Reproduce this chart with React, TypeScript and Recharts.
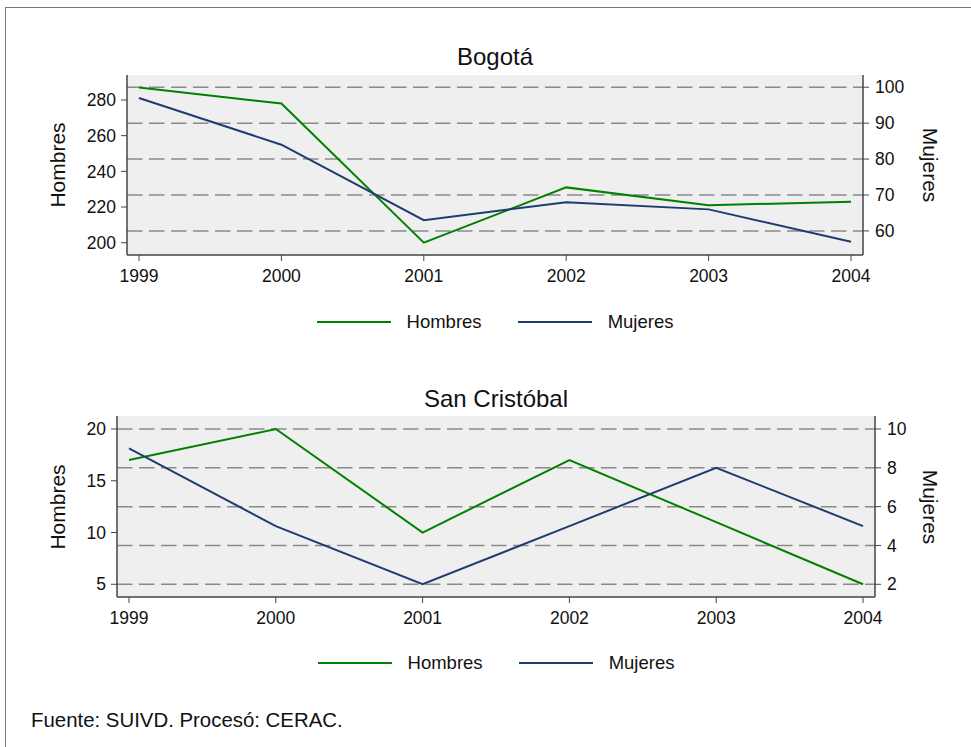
import React from 'react';
import { LineChart, Line, XAxis, YAxis, CartesianGrid, Legend } from 'recharts';

const years = ['1999', '2000', '2001', '2002', '2003', '2004'];
const bogotaHombres = [287, 278, 200, 231, 221, 223];
const bogotaMujeres = [97, 84, 63, 68, 66, 57];
const sanCristobalHombres = [17, 20, 10, 17, 11, 5];
const sanCristobalMujeres = [9, 5, 2, 5, 8, 5];

const bogotaLeftTicks = [200, 220, 240, 260, 280];
const bogotaRightTicks = [60, 70, 80, 90, 100];
const scLeftTicks = [5, 10, 15, 20];
const scRightTicks = [2, 4, 6, 8, 10];

const GREEN = '#008000';
const NAVY = '#1f3c6e';
const FONT = '"Liberation Sans", Arial, Helvetica, sans-serif';
const TEXT = '#111';

function LegendContent() {
  const item = (color: string, label: string, gap: number) => (
    <div style={{ display: 'flex', alignItems: 'center', marginRight: gap }}>
      <svg width={74} height={4} style={{ marginRight: 16 }}>
        <line x1={0} y1={2} x2={74} y2={2} stroke={color} strokeWidth={2} />
      </svg>
      <span style={{ fontSize: 18.5, color: TEXT, fontFamily: FONT }}>{label}</span>
    </div>
  );
  return (
    <div style={{ display: 'flex', justifyContent: 'center', alignItems: 'center', height: '100%' }}>
      {item(GREEN, 'Hombres', 36)}
      {item(NAVY, 'Mujeres', 0)}
    </div>
  );
}

type PanelProps = {
  title: string;
  hombres: number[];
  mujeres: number[];
  top: number;
  height: number;
  marginTop: number;
  marginLeft: number;
  marginRight: number;
  legendHeight: number;
  leftDomain: [number, number];
  rightDomain: [number, number];
  leftTicks: number[];
  rightTicks: number[];
  titleY: number;
  leftAxisX: number;
  rightAxisX: number;
};

function Panel(p: PanelProps) {
  const data = years.map((y, i) => ({ year: y, Hombres: p.hombres[i], Mujeres: p.mujeres[i] }));
  const plotTop = p.top + p.marginTop;
  const plotBottom = p.top + p.height - p.legendHeight - 35;
  const midY = (plotTop + plotBottom) / 2;
  const midX = (p.leftAxisX + p.rightAxisX) / 2;
  const tickStyle = { fontSize: 17.5, fill: TEXT, fontFamily: FONT };
  const axisLine = { stroke: '#444', strokeWidth: 1.5 };
  const gridGen = (props: any) => {
    const sc = props?.yAxis?.scale;
    const off = props?.offset;
    return p.rightTicks.map((t) => {
      if (typeof sc === 'function') return sc(t);
      if (sc && typeof sc.map === 'function') return sc.map(t);
      const [lo, hi] = p.rightDomain;
      return off.top + ((hi - t) / (hi - lo)) * off.height;
    });
  };
  return (
    <>
      <div style={{ position: 'absolute', left: midX, top: p.titleY, transform: 'translate(-50%,-50%)', fontSize: 24, color: TEXT, whiteSpace: 'nowrap' }}>{p.title}</div>
      <div style={{ position: 'absolute', left: 58, top: midY, transform: 'translate(-50%,-50%) rotate(-90deg)', fontSize: 21, color: TEXT, whiteSpace: 'nowrap' }}>Hombres</div>
      <div style={{ position: 'absolute', left: 930, top: midY, transform: 'translate(-50%,-50%) rotate(90deg)', fontSize: 21, color: TEXT, whiteSpace: 'nowrap' }}>Mujeres</div>
      <div style={{ position: 'absolute', left: 0, top: p.top }}>
        <LineChart width={971} height={p.height} data={data}
          margin={{ top: p.marginTop, left: p.marginLeft, right: p.marginRight, bottom: 0 }}>
          <CartesianGrid yAxisId="right" vertical={false} horizontal={true} fill="#efefef"
            stroke="#8a8a8a" strokeWidth={1.5} strokeDasharray="15.5 6.5"
            horizontalCoordinatesGenerator={gridGen} />
          <XAxis dataKey="year" type="category" height={35} padding={{ left: 12, right: 12 }}
            tick={tickStyle} tickSize={6} tickMargin={9} axisLine={axisLine} tickLine={{ stroke: '#444' }} interval={0} />
          <YAxis yAxisId="left" orientation="left" width={60} domain={p.leftDomain} ticks={p.leftTicks}
            allowDataOverflow type="number" tick={tickStyle} tickSize={6} tickMargin={5}
            axisLine={axisLine} tickLine={{ stroke: '#444' }} />
          <YAxis yAxisId="right" orientation="right" width={60} domain={p.rightDomain} ticks={p.rightTicks}
            allowDataOverflow type="number" tick={tickStyle} tickSize={6} tickMargin={6}
            axisLine={axisLine} tickLine={{ stroke: '#444' }} />
          <Legend verticalAlign="bottom" align="center" content={<LegendContent />}
            wrapperStyle={{ height: p.legendHeight }} />
          <Line yAxisId="left" type="linear" dataKey="Hombres" stroke={GREEN} strokeWidth={2}
            dot={false} activeDot={false} isAnimationActive={false} />
          <Line yAxisId="right" type="linear" dataKey="Mujeres" stroke={NAVY} strokeWidth={2}
            dot={false} activeDot={false} isAnimationActive={false} />
        </LineChart>
      </div>
    </>
  );
}

export default function App() {
  return (
    <div style={{ position: 'absolute', left: 0, top: 0, width: 971, height: 747, background: '#fff', fontFamily: FONT, overflow: 'hidden' }}>
      <div style={{ position: 'absolute', left: 5, top: 7, width: 1000, height: 800, border: '1.5px solid #777' }} />
      <Panel title="Bogotá" hombres={bogotaHombres} mujeres={bogotaMujeres}
        top={0} height={354} marginTop={75} marginLeft={67} marginRight={48} legendHeight={64}
        leftDomain={[193.1, 294]} rightDomain={[53.3, 103.4]}
        leftTicks={bogotaLeftTicks} rightTicks={bogotaRightTicks}
        titleY={57} leftAxisX={127} rightAxisX={863} />
      <Panel title="San Cristóbal" hombres={sanCristobalHombres} mujeres={sanCristobalMujeres}
        top={354} height={340} marginTop={62} marginLeft={57} marginRight={36} legendHeight={62}
        leftDomain={[3.77, 21.26]} rightDomain={[1.345, 10.67]}
        leftTicks={scLeftTicks} rightTicks={scRightTicks}
        titleY={399} leftAxisX={117} rightAxisX={875} />
      <div style={{ position: 'absolute', left: 31, top: 720, transform: 'translateY(-50%)', fontSize: 20.4, color: TEXT, whiteSpace: 'nowrap' }}>Fuente: SUIVD. Procesó: CERAC.</div>
    </div>
  );
}
